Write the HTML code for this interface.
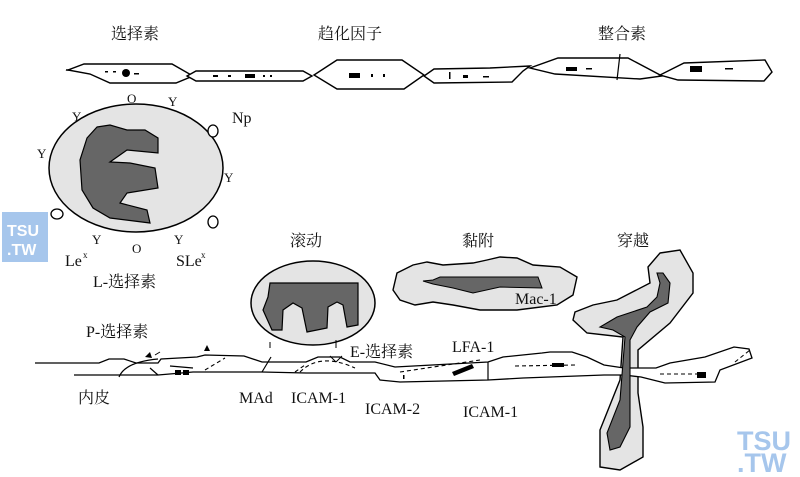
<!DOCTYPE html>
<html><head><meta charset="utf-8"><style>
html,body{margin:0;padding:0;background:#fff;}
svg{display:block;}
text{font-family:"Liberation Serif","Noto Serif CJK SC",serif;font-size:16px;fill:#111;}
.wm{font-family:"Liberation Sans","DejaVu Sans",sans-serif;font-weight:bold;}
.sm{font-size:13px;}
.sup{font-size:9px;}
</style></head><body>
<svg width="800" height="477" viewBox="0 0 800 477" xmlns="http://www.w3.org/2000/svg">
<g fill="none" stroke="#000" stroke-width="1.4">
<path d="M66,70 L85,70" />
<polygon fill="#fff" points="84,64 172,64 193,76 176,83 110,83 90,74 68,70"/>
<polygon fill="#fff" points="196,71 303,71 312,76 303,81 196,81 187,76"/>
<polygon fill="#fff" points="337,60 402,60 424,75 404,89 337,89 314,75"/>
<polygon fill="#fff" points="434,69 490,68 530,66 523,71 512,82 434,83 424,76"/>
<polygon fill="#fff" points="558,58 628,58 662,76 640,79 555,74 530,68"/>
<polygon fill="#fff" points="684,63 765,60 772,72 764,81 678,80 660,75"/>
</g>
<g fill="#000">
<circle cx="126" cy="73" r="4"/><rect x="134" y="73" width="5" height="1.5"/><rect x="105" y="71" width="3" height="1.5"/><rect x="113" y="71" width="3" height="1.5"/>
<rect x="213" y="75" width="5" height="2"/><rect x="228" y="75" width="3" height="2"/><rect x="245" y="74" width="10" height="4"/><rect x="263" y="75" width="2" height="2"/><rect x="270" y="75" width="2" height="2"/>
<rect x="349" y="73" width="11" height="5"/><rect x="371" y="74" width="2" height="3"/><rect x="383" y="74" width="2" height="3"/>
<rect x="463" y="75" width="5" height="3"/><rect x="483" y="76" width="6" height="1.5"/><rect x="449" y="72" width="1.5" height="7"/>
<rect x="566" y="67" width="11" height="4"/><rect x="586" y="68" width="6" height="1.5"/>
<rect x="690" y="66" width="12" height="6"/><rect x="725" y="68" width="8" height="1.5"/>
</g>
<line x1="620" y1="54" x2="617" y2="80" stroke="#000" stroke-width="1.2"/>
<text x="111" y="39">选择素</text>
<text x="318" y="39">趋化因子</text>
<text x="598" y="39">整合素</text>
<ellipse cx="136" cy="168" rx="87" ry="64" fill="#e4e4e4" stroke="#000" stroke-width="1.5"/>
<polygon fill="#666" stroke="#000" stroke-width="1.2" points="97,127 110,125 127,130 145,130 158,138 158,153 127,150 110,162 130,163 155,168 158,188 127,193 120,203 147,210 150,223 110,218 93,208 82,190 80,160 87,138"/>
<g>
<text class="sm" x="127" y="103">O</text><text class="sm" x="168" y="106">Y</text><text class="sm" x="72" y="121">Y</text>
<text class="sm" x="37" y="158">Y</text><text class="sm" x="224" y="182">Y</text>
<text class="sm" x="92" y="244">Y</text><text class="sm" x="174" y="244">Y</text><text class="sm" x="132" y="253">O</text>
</g>
<g fill="#fff" stroke="#000" stroke-width="1.3">
<ellipse cx="213" cy="131" rx="5" ry="6"/><ellipse cx="213" cy="222" rx="5" ry="6"/><ellipse cx="57" cy="214" rx="6" ry="5"/>
</g>
<text x="232" y="123">Np</text>
<text x="65" y="266">Le</text><text class="sup" x="83" y="258">x</text>
<text x="176" y="266">SLe</text><text class="sup" x="201" y="258">x</text>
<text x="93" y="287">L-选择素</text>
<text x="290" y="246">滚动</text>
<ellipse cx="313" cy="303" rx="62" ry="42" fill="#e4e4e4" stroke="#000" stroke-width="1.5"/>
<polygon fill="#666" stroke="#000" stroke-width="1.2" points="270,283 358,283 358,325 347,327 343,305 337,302 328,307 327,328 307,332 302,308 293,303 283,310 282,330 272,330 263,310 268,297"/>
<line x1="270" y1="342" x2="270" y2="348" stroke="#000"/><line x1="336" y1="340" x2="336" y2="348" stroke="#000"/>
<text x="462" y="246">黏附</text>
<polygon fill="#e4e4e4" stroke="#000" stroke-width="1.4" points="397,273 413,265 427,262 443,265 473,263 487,260 500,257 517,258 533,265 560,267 577,277 573,295 557,305 517,310 480,310 453,305 433,302 415,305 400,300 393,290"/>
<polygon fill="#666" stroke="#000" stroke-width="1" points="423,281 433,280 440,277 538,277 542,288 500,287 473,293 453,288 433,284"/>
<text x="515" y="304">Mac-1</text>
<text x="617" y="246">穿越</text>
<polygon fill="#e4e4e4" stroke="#000" stroke-width="1.4" points="660,253 680,250 693,273 693,293 670,323 638,350 638,393 643,427 643,457 620,470 600,467 600,430 620,380 623,337 587,333 573,320 575,312 593,305 617,300 650,283 648,267"/>
<g stroke="#000" stroke-width="1.3" fill="#fff">
<path d="M35,363 L99,363 L109,359 L124,359 L136,363 L158,363 L161,359 L197,357 L205,355 L244,356 L262,362 L306,362 L318,357 L340,357 L350,362 L375,362 L395,367 L488,362 L503,357 L542,353 L550,352 L572,352 L587,357 L604,365 L624,368 L641,368 L656,368 L670,363 L705,357 L734,347 L749,349 L752,358 L720,370 L715,382 L665,383 L641,377 L624,375 L604,375 L523,378 L488,380 L400,382 L380,380 L375,373 L306,373 L262,372 L193,372 L158,375 L74,375" />
</g>
<g stroke="#000" stroke-width="1.2" fill="none">
<path d="M119,377 Q125,362 158,359"/><path d="M262,372 Q268,362 271,357"/>
<path d="M488,362 L488,380"/>
<path d="M150,368 L158,375"/>
<path d="M170,366 L193,368"/>
</g>
<g stroke="#000" stroke-width="1.1" fill="none" stroke-dasharray="4,3">
<path d="M205,370 L225,358"/><path d="M295,372 L305,365"/>
<path d="M300,372 Q320,352 355,368"/>
<path d="M400,372 L480,360"/>
<path d="M515,366 L575,365"/>
<path d="M660,374 L700,374"/><path d="M735,362 L750,350"/>
</g>
<g fill="#000">
<rect x="175" y="370" width="6" height="5"/><rect x="183" y="370" width="6" height="5"/>
<rect x="552" y="363" width="12" height="4"/><rect x="697" y="372" width="9" height="6"/>
<polygon points="452,372 472,364 474,368 454,376"/>
<polygon points="145,357 150,352 152,358"/><polygon points="204,351 207,345 210,351"/>
<rect x="403" y="375" width="1.5" height="4"/>
</g>
<line x1="155" y1="355" x2="160" y2="352" stroke="#000"/>
<polygon fill="#666" stroke="#000" stroke-width="1.1" points="657,273 663,273 670,283 668,303 650,312 637,327 630,340 630,427 620,447 610,450 607,433 620,400 625,337 613,330 600,327 617,317 647,307 657,297 660,283"/>
<line x1="330" y1="356" x2="336" y2="362" stroke="#000"/><line x1="342" y1="356" x2="336" y2="362" stroke="#000"/>
<text x="86" y="337">P-选择素</text>
<text x="350" y="357">E-选择素</text>
<text x="452" y="352">LFA-1</text>
<text x="78" y="403">内皮</text>
<text x="239" y="403">MAd</text>
<text x="291" y="403">ICAM-1</text>
<text x="365" y="414">ICAM-2</text>
<text x="463" y="417">ICAM-1</text>
<rect x="2" y="212" width="46" height="50" fill="#a6c6ec"/>
<text x="7" y="236" class="wm" style="fill:#fff;font-size:16px">TSU</text>
<text x="7" y="255" class="wm" style="fill:#fff;font-size:16px">.TW</text>
<text x="737" y="450" class="wm" style="fill:#a6c6ec;font-size:27px">TSU</text>
<text x="737" y="472" class="wm" style="fill:#a6c6ec;font-size:27px">.TW</text>
</svg>
</body></html>
